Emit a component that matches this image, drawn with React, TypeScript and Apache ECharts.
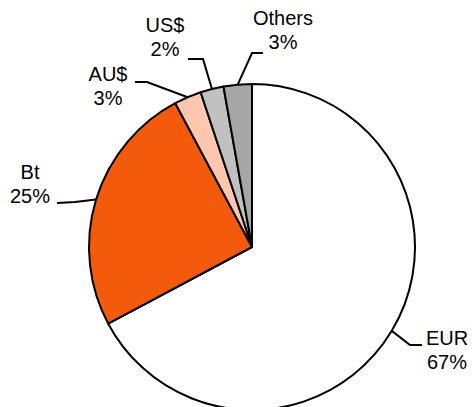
import React, { useEffect, useRef } from "react";
import * as echarts from "echarts";

const categories = ["EUR", "Bt", "AU$", "US$", "Others"];
const values = [67.2, 25.0, 2.7, 2.3, 2.8];
const colors = ["#FFFFFF", "#F45A0C", "#FFC6B0", "#C0C0C0", "#A6A6A6"];

// label layout (text centre, elbow and end of the leader line), in pixels
const labelPos: { x: number; y: number; elbow: [number, number]; end: [number, number] }[] = [
  { x: 447, y: 350, elbow: [410, 345], end: [422, 345] },
  { x: 30, y: 184, elbow: [75, 202], end: [57, 203] },
  { x: 108, y: 86, elbow: [147, 82], end: [135, 82] },
  { x: 165, y: 37, elbow: [203, 59], end: [188, 59] },
  { x: 283, y: 30, elbow: [252, 53], end: [263, 53] },
];

export default function App() {
  const ref = useRef<HTMLDivElement>(null);
  useEffect(() => {
    if (!ref.current) return;
    const chart = echarts.init(ref.current, undefined, { renderer: "svg" });
    chart.setOption({
      animation: false,
      backgroundColor: "#FFFFFF",
      series: [
        {
          type: "pie",
          center: [252, 247],
          radius: 163,
          startAngle: 90,
          clockwise: true,
          avoidLabelOverlap: false,
          percentPrecision: 0,
          data: categories.map((c, i) => ({
            name: c,
            value: values[i],
            itemStyle: { color: colors[i] },
          })),
          itemStyle: { borderColor: "#000000", borderWidth: 2 },
          label: {
            show: true,
            position: "outside",
            formatter: "{b}\n{d}%",
            color: "#000000",
            fontFamily: "Liberation Sans, Arial, sans-serif",
            fontSize: 20,
            lineHeight: 24,
            align: "center",
          },
          labelLine: {
            show: true,
            lineStyle: { color: "#000000", width: 2 },
          },
          labelLayout: (params: any) => {
            const p = labelPos[params.dataIndex];
            const pts = params.labelLinePoints;
            const edge = pts && pts[0] ? pts[0] : p.elbow;
            return {
              x: p.x,
              y: p.y,
              align: "center",
              verticalAlign: "middle",
              labelLinePoints: [edge, p.elbow, p.end],
            };
          },
        },
      ],
    });
    return () => chart.dispose();
  }, []);
  return (
    <div
      ref={ref}
      style={{ position: "fixed", left: 0, top: 0, width: 472, height: 407 }}
    />
  );
}
